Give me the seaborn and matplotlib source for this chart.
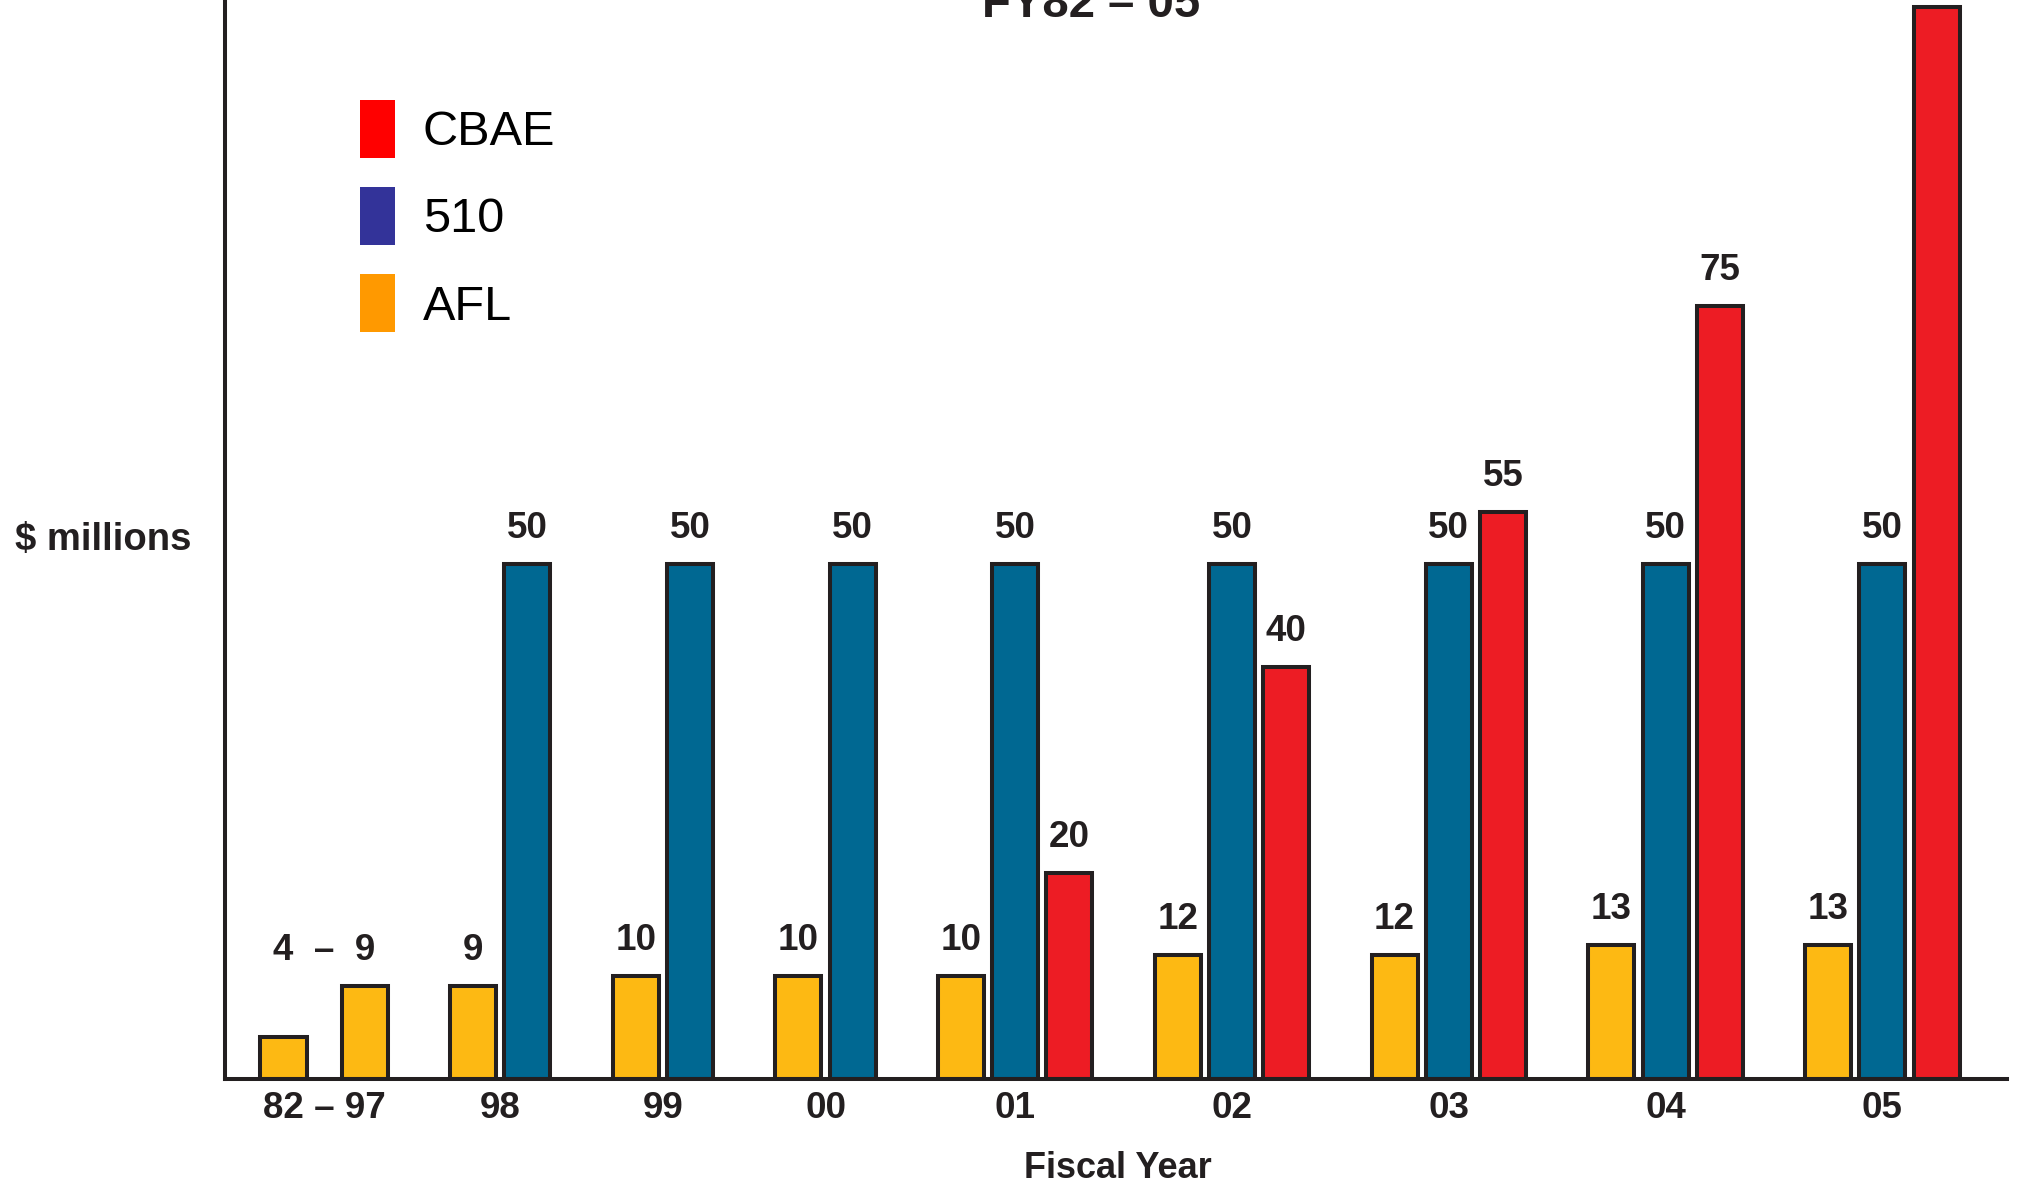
import matplotlib
matplotlib.use("Agg")
import matplotlib.pyplot as plt
from matplotlib.patches import Patch
import pandas as pd
import seaborn as sns

# Fiscal-year groups along the x axis
years = ["82 – 97", "98", "99", "00", "01", "02", "03", "04", "05"]

# AFL: FY82–97 is shown as a range (first, last), then one value per year FY98–05
afl_range = [4, 9]
afl = [9, 10, 10, 10, 12, 12, 13, 13]
# 510 program, FY98–05
prog_510 = [50, 50, 50, 50, 50, 50, 50, 50]
# CBAE, FY01–05
cbae = [20, 40, 55, 75, 104]

series = ["CBAE", "510", "AFL"]
bar_colors = {"AFL": "#FDB913", "510": "#006892", "CBAE": "#ED1C24"}
legend_colors = {"CBAE": "#FF0000", "510": "#333399", "AFL": "#FF9900"}
ink = "#231F20"

# Long-form table: one row per bar, with a running slot position.
# Bars within a year sit side by side; one empty slot separates years.
rows = []
group_centers = []
pos = 0.0
g = []
for v in afl_range:
    rows.append(dict(year=years[0], series="AFL", value=v, slot=pos))
    g.append(pos)
    pos += 1.5
group_centers.append(sum(g) / len(g))
pos = g[-1] + 2
cbae_start = len(years) - 1 - len(cbae)
for i, yr in enumerate(years[1:]):
    vals = [("AFL", afl[i]), ("510", prog_510[i])]
    if i >= cbae_start:
        vals.append(("CBAE", cbae[i - cbae_start]))
    g = []
    for s, v in vals:
        rows.append(dict(year=yr, series=s, value=v, slot=pos))
        g.append(pos)
        pos += 1
    group_centers.append(sum(g) / len(g))
    pos += 1
df = pd.DataFrame(rows)

sns.set_theme(style="white")
plt.rcParams["font.family"] = ["Liberation Sans", "DejaVu Sans"]
plt.rcParams["text.color"] = ink

W, H = 2017, 1185
fig = plt.figure(figsize=(W / 100, H / 100), dpi=100)
ax_bottom = (H - 1078.7) / H
ax = fig.add_axes([225 / W, ax_bottom, (2007 - 225) / W, 1 - ax_bottom])

sns.barplot(
    data=df, x="slot", y="value", hue="series",
    hue_order=["AFL", "510", "CBAE"], palette=bar_colors,
    native_scale=True, dodge=False, width=0.85, saturation=1,
    errorbar=None, edgecolor=ink, linewidth=2.9, legend=False, ax=ax,
)

ymax = 104.7
ax.set_xlim(df["slot"].min() - 1.08, df["slot"].max() + 1.3)
ax.set_ylim(0, ymax)

# Axes styling: only left and bottom lines
for side in ("top", "right"):
    ax.spines[side].set_visible(False)
for side in ("left", "bottom"):
    ax.spines[side].set_color(ink)
    ax.spines[side].set_linewidth(2.9)
ax.set_yticks([])
ax.set_xticks(group_centers, labels=years)
ax.tick_params(axis="x", length=0, pad=8.8, labelsize=26.5, labelcolor=ink)
for lbl in ax.get_xticklabels():
    lbl.set_fontweight("bold")

# Value labels above the bars
label_kw = dict(textcoords="offset points", xytext=(0, 18.5), ha="center",
                va="baseline", fontsize=26.5, fontweight="bold", color=ink)
ax.annotate(f"{afl_range[0]}  –  {afl_range[1]}",
            (group_centers[0], max(afl_range)), **label_kw)
for _, r in df[df["year"] != years[0]].iterrows():
    if r["value"] < ymax - 8:
        ax.annotate(f"{r['value']:g}", (r["slot"], r["value"]), **label_kw)

# Axis titles
ax.set_xlabel("Fiscal Year", fontsize=26, fontweight="bold", color=ink, va="top")
ax.xaxis.set_label_coords(1118 / W, 1 - 1151 / H, transform=fig.transFigure)
ax.set_ylabel(r"\$ millions", rotation=0, ha="left", va="center",
              fontsize=27.5, fontweight="bold", color=ink)
ax.yaxis.set_label_coords(15 / W, 1 - 540 / H, transform=fig.transFigure)

fig.text(1091 / W, 1 - 17 / H, "FY82 – 05", ha="center", va="baseline",
         fontsize=34, fontweight="bold", color=ink)

# Legend
handles = [Patch(facecolor=legend_colors[s], edgecolor="none") for s in series]
ax.legend(handles, series, loc="upper left",
          bbox_to_anchor=(360 / W, 1 - 100 / H), bbox_transform=fig.transFigure,
          frameon=False, fontsize=35, handlelength=0.72, handleheight=1.46,
          handletextpad=0.57, labelspacing=0.6, borderpad=0, borderaxespad=0,
          labelcolor="black")

fig.savefig("out.png", dpi=100, facecolor="white")
